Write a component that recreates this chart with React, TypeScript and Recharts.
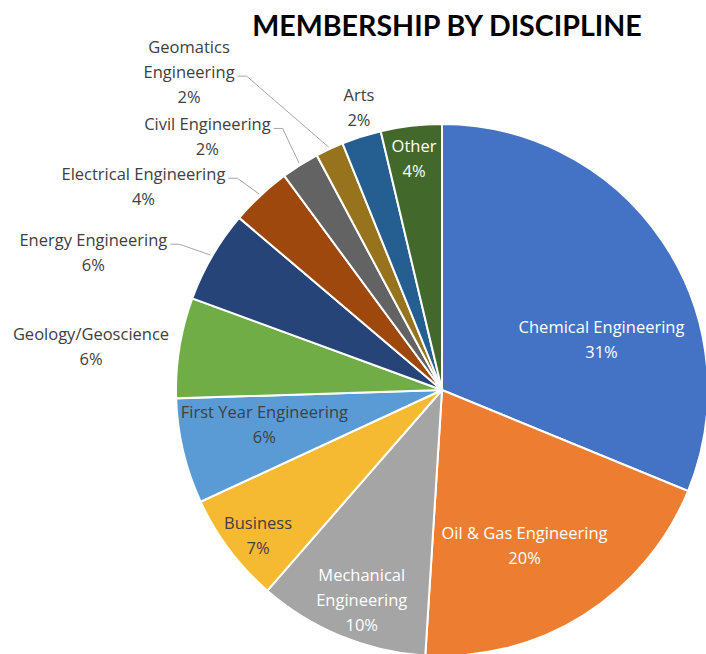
import React from 'react';
import { PieChart, Pie, Cell } from 'recharts';

const disciplines = [
  'Chemical Engineering',
  'Oil & Gas Engineering',
  'Mechanical Engineering',
  'Business',
  'First Year Engineering',
  'Geology/Geoscience',
  'Energy Engineering',
  'Electrical Engineering',
  'Civil Engineering',
  'Geomatics Engineering',
  'Arts',
  'Other',
];
// share of members, %
const shares = [31.2, 19.8, 10.4, 6.7, 6.4, 6.1, 5.6, 3.7, 2.3, 1.7, 2.4, 3.7];

const sliceColors = [
  '#4472C4', '#ED7D31', '#A5A5A5', '#F5BA32', '#5B9BD5', '#70AD47',
  '#264478', '#9E480E', '#636363', '#98731E', '#255E91', '#43682B',
];

const data = disciplines.map((name, i) => ({ name, value: shares[i] }));

// label spot: distance as share of radius, turn in degrees (clockwise) off the slice middle
const labelPlacement = [
  { r: 0.63, turn: 16, color: '#ffffff' },
  { r: 0.66, turn: 4, color: '#ffffff' },
  { r: 0.845, turn: -1.4, color: '#ffffff', wrap: true },
  { r: 0.88, turn: -1.3, color: '#404040' },
  { r: 0.68, turn: 2.4, color: '#404040' },
  { r: 1.33, turn: -2, color: '#404040' },
  { r: 1.41, turn: -8.6, color: '#404040', leader: true },
  { r: 1.36, turn: -12.6, color: '#404040', leader: true },
  { r: 1.3, turn: -10.5, color: '#404040', leader: true },
  { r: 1.53, turn: -13.4, color: '#404040', leader: true, wrap: true },
  { r: 1.11, turn: 1.3, color: '#404040' },
  { r: 0.88, turn: -0.2, color: '#ffffff' },
];

const FONT = '"Open Sans", Lato, sans-serif';
const FONT_SIZE = 16.5;
const LINE_GAP = 25;
const RAD = Math.PI / 180;

let ctx: CanvasRenderingContext2D | null = null;
const textWidth = (s: string) => {
  if (!ctx) ctx = document.createElement('canvas').getContext('2d');
  if (!ctx) return s.length * 8.5;
  ctx.font = `${FONT_SIZE}px "Open Sans"`;
  return ctx.measureText(s).width;
};

const renderLabel = (props: any) => {
  const { cx, cy, midAngle, outerRadius, index, name, percent } = props;
  const place = labelPlacement[index];
  const a = (midAngle - place.turn) * RAD;
  const x = cx + outerRadius * place.r * Math.cos(a);
  const y = cy - outerRadius * place.r * Math.sin(a);
  const nameLines = place.wrap ? name.split(' ') : [name];
  const lines = [...nameLines, `${Math.round(percent * 100)}%`];
  const n = lines.length;
  const lineY = (i: number) => y + (i - (n - 1) / 2) * LINE_GAP;

  let leader = null;
  if (place.leader) {
    const w = Math.max(...lines.map(textWidth));
    const sx = x + w / 2 + 3;
    const sy = lineY(Math.floor((n - 1) / 2)) + 5;
    const m = midAngle * RAD;
    const ex = cx + (outerRadius + 2) * Math.cos(m);
    const ey = cy - (outerRadius + 2) * Math.sin(m);
    leader = (
      <polyline
        points={`${sx},${sy} ${sx + 9},${sy} ${ex},${ey}`}
        fill="none"
        stroke="#a6a6a6"
        strokeWidth={1}
      />
    );
  }

  return (
    <g key={`lbl-${index}`}>
      {leader}
      {lines.map((t, i) => (
        <text
          key={i}
          x={x}
          y={lineY(i)}
          textAnchor="middle"
          dominantBaseline="central"
          fill={place.color}
          fontFamily={FONT}
          fontSize={FONT_SIZE}
        >
          {t}
        </text>
      ))}
    </g>
  );
};

export default function App() {
  return (
    <div style={{ position: 'absolute', left: 0, top: 0, width: 706, height: 654, overflow: 'hidden', background: '#fff' }}>
      <PieChart width={706} height={654} margin={{ top: 0, right: 0, bottom: 0, left: 0 }}>
        <Pie
          data={data}
          dataKey="value"
          nameKey="name"
          cx={442}
          cy={390}
          outerRadius={266}
          startAngle={90}
          endAngle={-270}
          stroke="#ffffff"
          strokeWidth={2}
          label={renderLabel}
          labelLine={false}
          isAnimationActive={false}
        >
          {data.map((d, i) => (
            <Cell key={d.name} fill={sliceColors[i]} />
          ))}
        </Pie>
      </PieChart>
      <svg width={706} height={60} style={{ position: 'absolute', left: 0, top: 0 }}>
        <text x={447} y={36} textAnchor="middle" fontFamily="Lato, sans-serif" fontWeight="bold" fontSize={28.6} fill="#000">
          MEMBERSHIP BY DISCIPLINE
        </text>
      </svg>
    </div>
  );
}
